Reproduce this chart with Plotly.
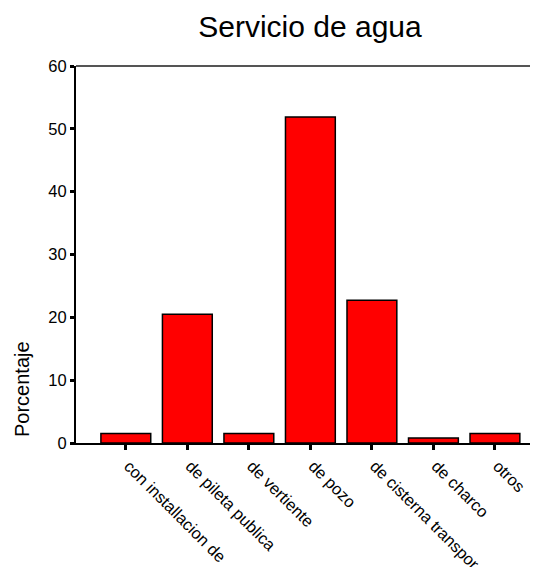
import plotly.graph_objects as go

categories = ["con installacion de", "de pileta publica", "de vertiente", "de pozo",
              "de cisterna transpor", "de charco", "otros"]
values = [1.5, 20.5, 1.5, 51.9, 22.7, 0.8, 1.5]
y_ticks = [0, 10, 20, 30, 40, 50, 60]

FONT = "Liberation Sans, Arial, sans-serif"

W, H = 530, 559  # page body has an 8px margin

fig = go.Figure(go.Bar(
    x=list(range(len(categories))), y=values,
    width=0.81,
    marker=dict(color="#ff0000", line=dict(color="black", width=1.5)),
))

fig.update_layout(
    width=W, height=H, autosize=False,
    margin=dict(l=68, r=0, t=58, b=124, autoexpand=False),
    paper_bgcolor="white", plot_bgcolor="white",
    showlegend=False,
    font=dict(family=FONT, color="black"),
    title=dict(text="Servicio de agua", x=302/W, xanchor="center",
               y=1 - 18/H, yanchor="middle", font=dict(size=30, family=FONT)),
    xaxis=dict(range=[-0.81, 6.7], tickmode="array",
               tickvals=list(range(len(categories))), ticktext=categories,
               tickangle=45, tickfont=dict(size=16.5),
               ticklabelshift=3,
               showline=True, linecolor="black", linewidth=2,
               ticks="outside", ticklen=5, tickwidth=3, tickcolor="black",
               showgrid=False, zeroline=False, fixedrange=True),
    yaxis=dict(range=[0, 60], tickmode="array", tickvals=y_ticks,
               tickfont=dict(size=16.5),
               showline=True, linecolor="black", linewidth=2,
               ticks="outside", ticklen=4, tickwidth=3, tickcolor="black",
               showgrid=False, zeroline=False, fixedrange=True),
    shapes=[dict(type="line", xref="paper", yref="paper", x0=0, x1=1, y0=1, y1=1,
                 line=dict(color="#555555", width=2))],
    annotations=[dict(text="Porcentaje", textangle=-90, xref="paper", yref="paper",
                      x=(22 - 76) / 462, y=(443 - 389) / 377,
                      xanchor="center", yanchor="middle", showarrow=False,
                      font=dict(size=20, family=FONT))],
)

fig.write_html("out.html")
